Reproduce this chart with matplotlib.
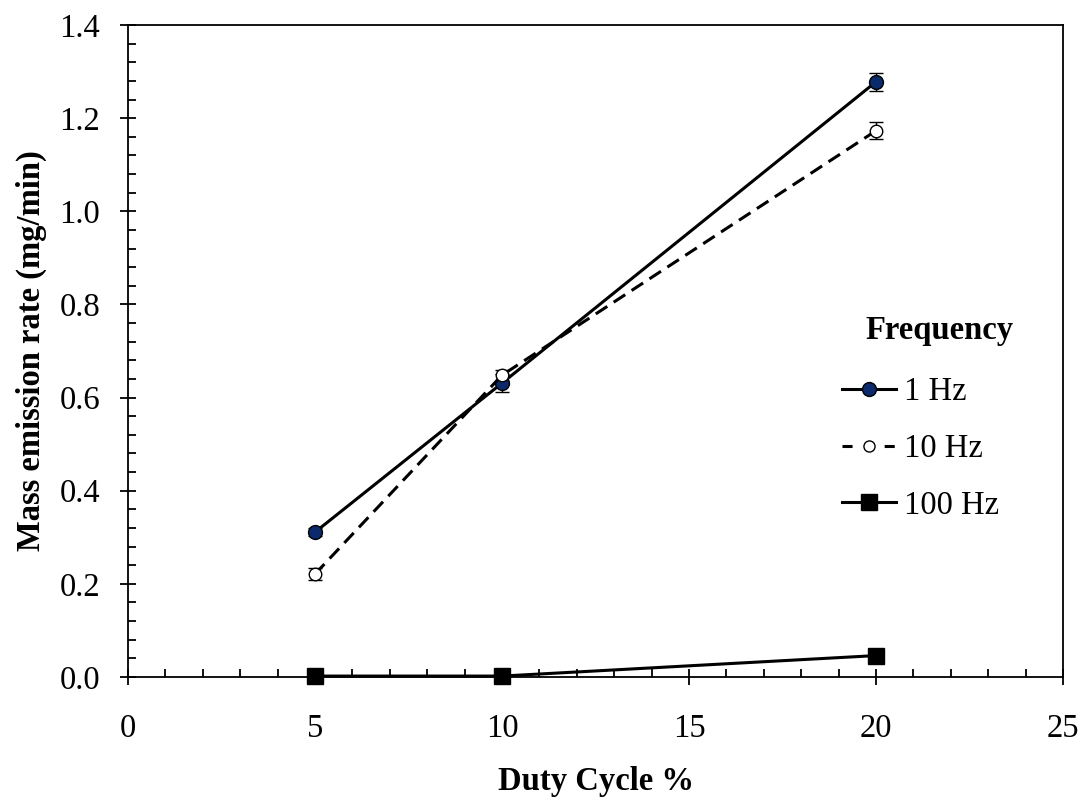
import numpy as np
import matplotlib.pyplot as plt
from matplotlib.lines import Line2D
from matplotlib.ticker import MultipleLocator

plt.rcParams['font.family'] = ['Liberation Serif', 'DejaVu Serif']

# duty cycle (%)
duty = [5, 10, 20]

# mass emission rate (mg/min) and error for each frequency
rate_1hz = [0.311, 0.631, 1.278]
err_1hz = [0.008, 0.020, 0.020]
rate_10hz = [0.221, 0.648, 1.173]
err_10hz = [0.012, 0.012, 0.018]
rate_100hz = [0.002, 0.002, 0.046]
err_100hz = [0.004, 0.004, 0.008]

FS = 23.5

fig = plt.figure(figsize=(10.85, 8.0), dpi=100)
ax = fig.add_axes([128 / 1085, 1 - 677 / 800, 935 / 1085, 652 / 800])

common = dict(color="black", linewidth=2.2, ecolor="black", elinewidth=1.0,
              capsize=5, capthick=1.0, zorder=3, clip_on=False)
ax.errorbar(duty, rate_1hz, yerr=err_1hz, linestyle="-", marker="o",
            markersize=10, markerfacecolor="#0B2A6B", markeredgecolor="black",
            markeredgewidth=1.0, **common)
ax.errorbar(duty, rate_10hz, yerr=err_10hz, linestyle=(0, (4.5, 2.5)), marker="o",
            markersize=9, markerfacecolor="white", markeredgecolor="black",
            markeredgewidth=1.0, **common)
ax.errorbar(duty, rate_100hz, yerr=err_100hz, linestyle="-", marker="s",
            markersize=11, markerfacecolor="black", markeredgecolor="black", **common)

ax.set_xlim(0, 25)
ax.set_ylim(0, 1.4)
ax.xaxis.set_major_locator(MultipleLocator(5))
ax.xaxis.set_minor_locator(MultipleLocator(1))
ax.yaxis.set_major_locator(MultipleLocator(0.2))
ax.yaxis.set_minor_locator(MultipleLocator(0.04))
ax.yaxis.set_major_formatter(plt.FormatStrFormatter('%.1f'))

ax.tick_params(which='major', direction='inout', length=12, width=1.3,
               labelsize=FS)
ax.tick_params(which='minor', direction='in', length=6, width=1.3)
ax.tick_params(top=False, right=False, which='both')
ax.tick_params(axis='x', pad=20)
ax.tick_params(axis='y', pad=14)
for s in ax.spines.values():
    s.set_linewidth(1.3)

ax.set_xlabel("Duty Cycle %", fontsize=FS, fontweight='bold', labelpad=16)
ax.set_ylabel("Mass emission rate (mg/min)", fontsize=FS, fontweight='bold', labelpad=9)

# legend handles without error bars
handles = [
    Line2D([], [], color="black", linewidth=2.2, marker="o", markersize=10,
           markerfacecolor="#0B2A6B", markeredgecolor="black"),
    Line2D([], [], color="black", linewidth=2.2, linestyle=(0, (3.3, 10.5)),
           marker="o", markersize=8, markerfacecolor="white", markeredgecolor="black"),
    Line2D([], [], color="black", linewidth=2.2, marker="s", markersize=11,
           markerfacecolor="black", markeredgecolor="black"),
]
labels = ["1 Hz", "10 Hz", "100 Hz"]
ax.legend(handles, labels, loc='center left', bbox_to_anchor=(0.732, 0.350),
          frameon=False, fontsize=FS, handlelength=1.65,
          handletextpad=0.25, labelspacing=0.8)
ax.text(0.868, 0.532, "Frequency", transform=ax.transAxes, fontsize=FS,
        fontweight='bold', ha='center', va='center')

plt.savefig("out.png", dpi=100)
